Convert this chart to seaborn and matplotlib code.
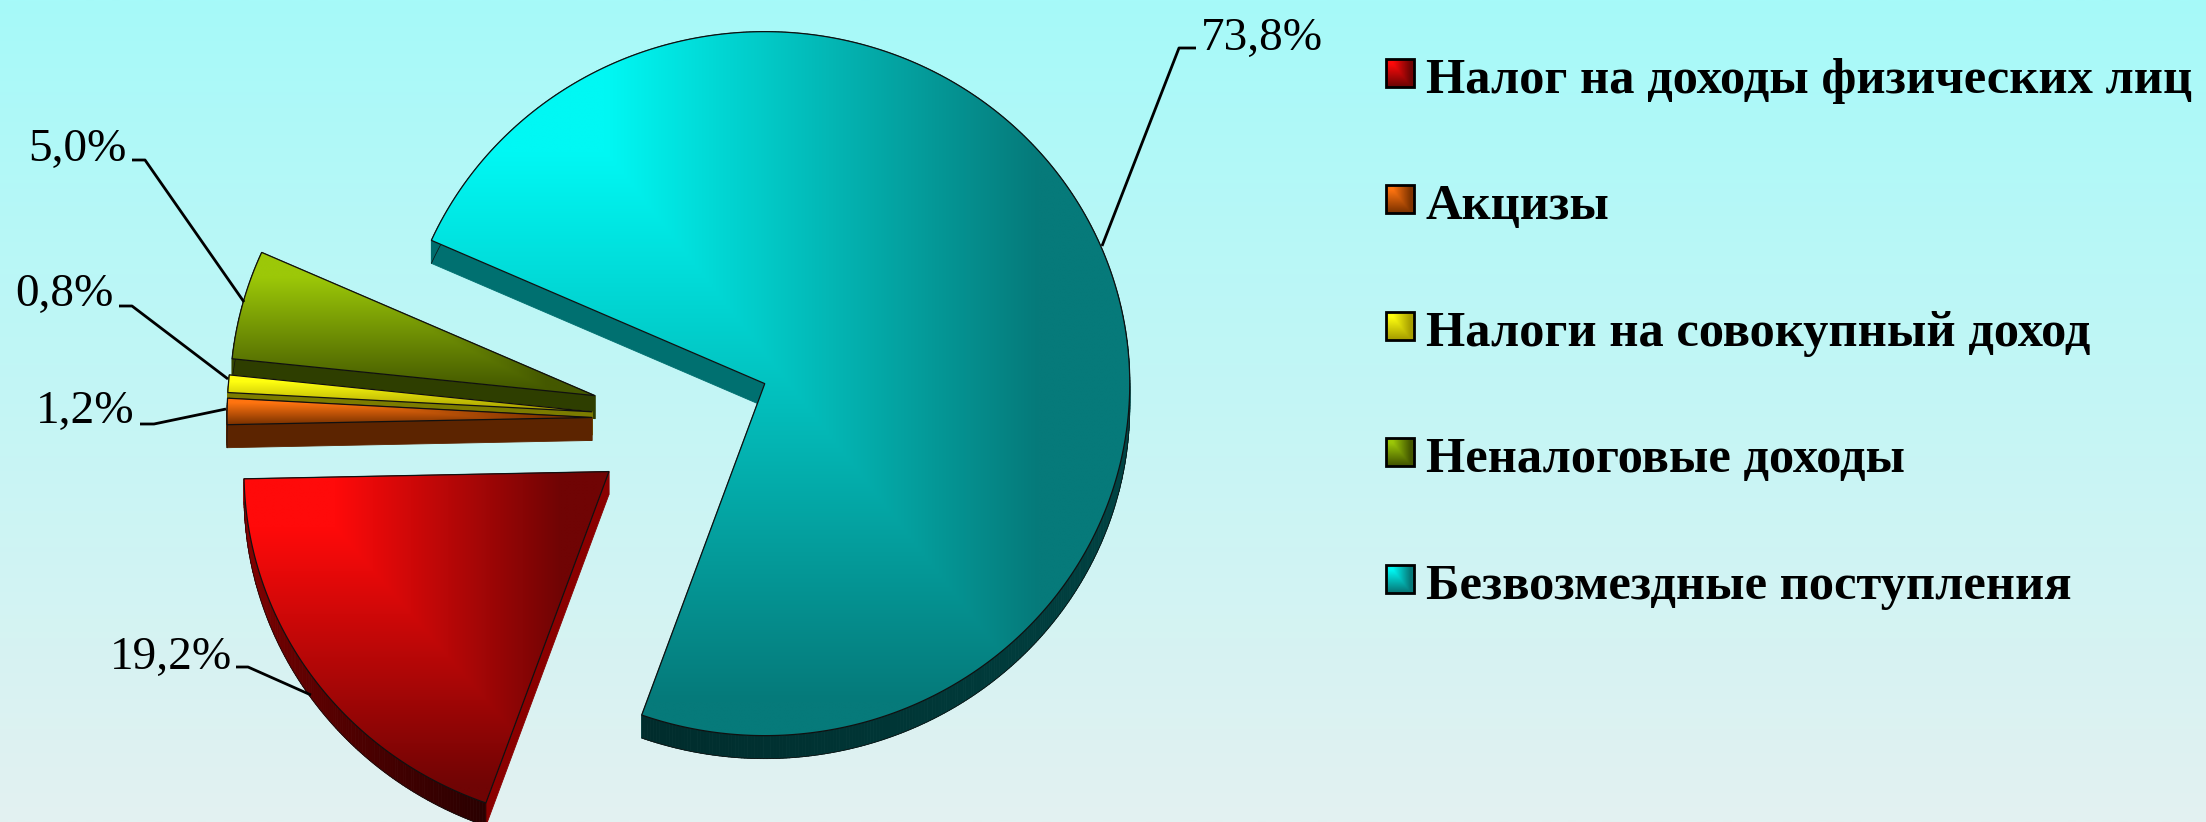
import numpy as np
import seaborn as sns
from matplotlib import pyplot as plt
from matplotlib.collections import PolyCollection
from matplotlib.colors import to_rgb
from matplotlib.patches import Polygon, Rectangle

# data
categories = ['Налог на доходы физических лиц', 'Акцизы', 'Налоги на совокупный доход',
              'Неналоговые доходы', 'Безвозмездные поступления']
shares = [19.2, 1.2, 0.8, 5.0, 73.8]
share_labels = ['19,2%', '1,2%', '0,8%', '5,0%', '73,8%']

# top face colours: lit corner, shaded part
top_colors = [['#ff0a0a', '#700404'],
              ['#ff7410', '#803400'],
              ['#ffff10', '#a8a000'],
              ['#9cc808', '#445800'],
              ['#00f8f4', '#067a7a']]
# side colours: first and last point of the arc, then the straight edges
side_colors = [['#2a0000', '#900000', '#8a0000'],
               ['#5c2400', '#5c2400', '#5c2400'],
               ['#7c7c00', '#7c7c00', '#7c7c00'],
               ['#324400', '#324400', '#2e3e00'],
               ['#006c6c', '#002c2c', '#007070']]
draw_order = [4, 3, 2, 1, 0]

# layout in pixels of the picture
center = (682, 419)
radius_x, radius_y = 365, 352
explode = 90
depth = 23
first_angle = -109.7
label_pos = [(232, 669), (134, 423), (114, 306), (127, 161), (1323, 50)]
leaders = [[(236, 667), (248, 667), (311, 695)],
           [(140, 424), (154, 424), (226, 409)],
           [(119, 306), (132, 306), (228, 379)],
           [(132, 160), (145, 160), (244, 302)],
           [(1196, 48), (1179, 48), (1102, 246)]]
legend_x, legend_y, legend_step = 1426, 92, 126.4

sns.set_theme(style='white')
plt.rcParams['font.family'] = ['Liberation Serif', 'DejaVu Serif']


def shade(ax, colors, box, clip, zorder):
    # lit towards the top left, falls off to the right and to the bottom
    lit, dark = [np.array(to_rgb(c)) for c in colors]
    u = np.linspace(0, 1, 256)[None, :]
    v = np.linspace(0, 1, 256)[:, None]
    k = np.minimum(np.clip((0.87 - u) / 0.62, 0, 1), np.clip((0.95 - v) / 0.78, 0, 1))[:, :, None]
    img = dark + (lit - dark) * k
    im = ax.imshow(img, extent=(box[0], box[2], box[3], box[1]), aspect='auto',
                   interpolation='bilinear', zorder=zorder)
    im.set_clip_path(clip)


fig = plt.figure(figsize=(22.06, 8.22), dpi=100)
ax = fig.add_axes([0, 0, 1, 1])
ax.axis('off')

# background
bg = np.linspace(to_rgb('#a6faf9'), to_rgb('#e3f1f1'), 256)[:, None, :]
ax.imshow(bg, extent=(0, 2206, 822, 0), aspect='auto', interpolation='bilinear', zorder=0)

# slices go clockwise from first_angle
sweeps = np.array(shares) / sum(shares) * 360
starts = first_angle - np.concatenate([[0], np.cumsum(sweeps)[:-1]])

z = 1
for i in draw_order:
    a0 = starts[i]
    a1 = a0 - sweeps[i]
    mid = np.radians((a0 + a1) / 2)
    apex = np.array([center[0] + explode * np.cos(mid), center[1] - explode * np.sin(mid)])
    t = np.radians(np.linspace(a0, a1, max(int(sweeps[i] * 2), 12)))
    arc = np.column_stack([apex[0] + radius_x * np.cos(t), apex[1] - radius_y * np.sin(t)])
    shift = np.array([0, depth])

    # side first, the top face goes over it
    quads = []
    cols = []
    for p in (arc[0], arc[-1]):
        quads.append([apex, p, p + shift, apex + shift])
        cols.append(to_rgb(side_colors[i][2]))
    pal = sns.blend_palette(side_colors[i][:2], len(arc) - 1)
    for k in range(len(arc) - 1):
        quads.append([arc[k], arc[k + 1], arc[k + 1] + shift, arc[k] + shift])
        cols.append(pal[k])
    ax.add_collection(PolyCollection(quads, facecolors=cols, edgecolors=cols, linewidths=0.6, zorder=z))
    low = arc + shift
    ax.plot(low[:, 0], low[:, 1], color='#101010', lw=0.5, zorder=z + 0.1)

    top = np.vstack([[apex], arc])
    clip = Polygon(top, closed=True, transform=ax.transData)
    box = (top[:, 0].min(), top[:, 1].min(), top[:, 0].max(), top[:, 1].max())
    shade(ax, top_colors[i], box, clip, z + 0.2)
    ax.add_patch(Polygon(top, closed=True, fill=False, edgecolor='#101010', lw=0.9, zorder=z + 0.3))
    z += 1

# leaders and value labels
for i in range(len(shares)):
    pts = np.array(leaders[i])
    ax.plot(pts[:, 0], pts[:, 1], color='black', lw=2, zorder=20, solid_capstyle='butt')
    ax.text(label_pos[i][0], label_pos[i][1], share_labels[i], fontsize=34, color='black',
            ha='right', va='baseline', zorder=21)

# legend
for i, name in enumerate(categories):
    y = legend_y + i * legend_step
    sw = Rectangle((1386, y - 33), 28, 28, fill=False, edgecolor='black', lw=2, zorder=21)
    clip = Rectangle((1386, y - 33), 28, 28, transform=ax.transData)
    shade(ax, top_colors[i], (1386, y - 33, 1414, y - 5), clip, 20)
    ax.add_patch(sw)
    ax.text(legend_x, y + 1, name, fontsize=36.4, fontweight='bold', color='black',
            ha='left', va='baseline', zorder=21)

ax.set_xlim(0, 2206)
ax.set_ylim(822, 0)
fig.savefig('out.png', dpi=100)
